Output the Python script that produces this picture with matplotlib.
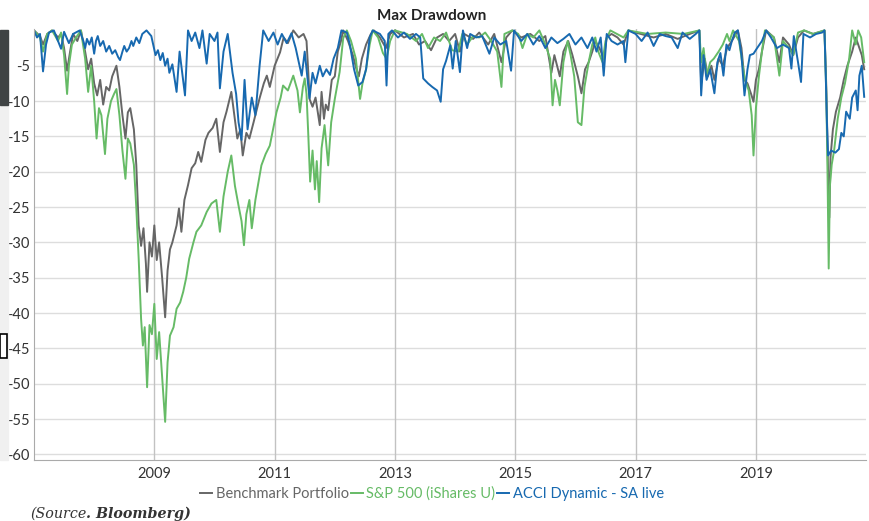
import matplotlib
matplotlib.use("Agg")
import matplotlib.pyplot as plt
import numpy as np

plt.rcParams['font.family'] = ['Lato', 'DejaVu Sans']
plt.rcParams['axes.unicode_minus'] = False

# drawdown readings (decimal year, % drawdown) taken off the chart
bench = [
    (2007.00, 0), (2007.10, -0.8), (2007.15, -2.0), (2007.22, -0.5), (2007.30, 0),
    (2007.40, -1.0), (2007.45, -0.5), (2007.50, -2.5), (2007.55, -5.7), (2007.60, -3.0),
    (2007.65, -0.5), (2007.72, -1.5), (2007.78, 0), (2007.85, -3.0), (2007.90, -5.5),
    (2007.95, -4.0), (2008.00, -7.5), (2008.05, -9.2), (2008.10, -7.0), (2008.15, -10.5),
    (2008.20, -8.0), (2008.25, -8.5), (2008.30, -6.5), (2008.37, -5.0), (2008.42, -8.0),
    (2008.47, -12.0), (2008.52, -15.3), (2008.56, -11.6), (2008.60, -11.0), (2008.66, -14.0),
    (2008.70, -19.0), (2008.74, -27.6), (2008.78, -30.5), (2008.82, -28.0), (2008.86, -33.0),
    (2008.88, -37.0), (2008.92, -30.0), (2008.96, -32.0), (2009.00, -27.6), (2009.04, -32.5),
    (2009.08, -30.0), (2009.13, -35.0), (2009.18, -40.6), (2009.22, -34.0), (2009.26, -31.0),
    (2009.30, -30.0), (2009.37, -27.6), (2009.41, -25.2), (2009.45, -28.5), (2009.50, -24.0),
    (2009.56, -21.9), (2009.62, -19.5), (2009.68, -18.8), (2009.73, -17.2), (2009.78, -18.6),
    (2009.85, -15.5), (2009.90, -14.5), (2009.97, -13.8), (2010.03, -12.5), (2010.09, -17.2),
    (2010.15, -13.0), (2010.20, -11.5), (2010.28, -8.7), (2010.33, -12.0), (2010.38, -15.3),
    (2010.43, -14.0), (2010.47, -17.7), (2010.53, -14.5), (2010.58, -15.3), (2010.65, -13.0),
    (2010.75, -9.6), (2010.82, -7.5), (2010.87, -6.4), (2010.92, -8.0), (2011.00, -5.0),
    (2011.09, -3.1), (2011.15, -1.0), (2011.22, -1.8), (2011.31, 0), (2011.40, -1.0),
    (2011.48, -0.5), (2011.53, -1.5), (2011.56, -6.0), (2011.58, -9.7), (2011.63, -10.8),
    (2011.68, -9.5), (2011.75, -13.4), (2011.78, -8.7), (2011.82, -12.5), (2011.85, -10.5),
    (2011.89, -11.3), (2011.95, -7.0), (2012.00, -6.5), (2012.05, -3.0), (2012.10, -1.6),
    (2012.14, 0), (2012.22, -1.5), (2012.30, -3.5), (2012.36, -5.5), (2012.40, -6.5),
    (2012.45, -4.0), (2012.52, -2.0), (2012.60, -0.5), (2012.65, 0), (2012.75, -1.0),
    (2012.85, -2.5), (2012.92, -0.5), (2013.00, 0), (2013.15, -1.0), (2013.30, -0.5),
    (2013.40, -2.0), (2013.50, -1.5), (2013.60, -2.8), (2013.70, -1.0), (2013.80, -0.5),
    (2013.90, -1.5), (2014.00, -0.5), (2014.08, -3.0), (2014.15, -0.5), (2014.30, -1.2),
    (2014.40, -0.3), (2014.55, -2.0), (2014.65, -0.5), (2014.77, -4.5), (2014.85, -1.0),
    (2014.95, 0), (2015.10, -1.0), (2015.25, -0.5), (2015.40, -1.5), (2015.50, -0.8),
    (2015.60, -6.0), (2015.65, -3.5), (2015.74, -6.5), (2015.80, -3.0), (2015.88, -1.5),
    (2015.95, -3.5), (2016.04, -6.5), (2016.10, -8.9), (2016.16, -5.5), (2016.22, -4.5),
    (2016.28, -3.0), (2016.33, -1.5), (2016.40, -2.5), (2016.47, -4.0), (2016.52, -1.0),
    (2016.60, -0.5), (2016.70, -1.0), (2016.80, -2.0), (2016.88, 0), (2017.00, -0.3),
    (2017.30, -1.0), (2017.50, -0.5), (2017.70, -1.2), (2017.90, -0.5), (2018.06, 0),
    (2018.09, -7.5), (2018.15, -4.0), (2018.20, -6.5), (2018.26, -5.0), (2018.31, -7.0),
    (2018.38, -4.0), (2018.45, -5.0), (2018.52, -2.5), (2018.60, -1.5), (2018.70, 0),
    (2018.76, -2.5), (2018.81, -7.0), (2018.86, -7.5), (2018.92, -9.0), (2018.96, -10.1),
    (2019.00, -7.0), (2019.05, -5.5), (2019.10, -3.0), (2019.17, 0), (2019.30, -1.0),
    (2019.39, -4.5), (2019.45, -1.0), (2019.55, -2.0), (2019.62, -3.5), (2019.70, -1.0),
    (2019.80, 0), (2019.95, -0.5), (2020.14, 0), (2020.17, -8.0), (2020.20, -20.0),
    (2020.22, -26.5), (2020.24, -18.0), (2020.28, -14.0), (2020.33, -11.5), (2020.40, -9.5),
    (2020.46, -7.0), (2020.52, -5.0), (2020.60, -3.0), (2020.66, -1.0), (2020.72, -2.5),
    (2020.76, -3.5), (2020.80, -5.5),
]

sp500 = [
    (2007.00, 0), (2007.10, -1.0), (2007.15, -3.0), (2007.22, -0.5), (2007.30, 0),
    (2007.40, -1.5), (2007.45, -0.3), (2007.50, -3.5), (2007.55, -9.0), (2007.58, -5.0),
    (2007.63, -2.0), (2007.70, -1.0), (2007.78, 0), (2007.85, -4.0), (2007.90, -8.7),
    (2007.95, -5.0), (2008.00, -10.0), (2008.04, -15.3), (2008.08, -11.0), (2008.12, -12.0),
    (2008.18, -17.5), (2008.22, -12.5), (2008.28, -10.0), (2008.33, -9.0), (2008.37, -8.3),
    (2008.42, -12.0), (2008.47, -17.0), (2008.52, -21.0), (2008.56, -15.3), (2008.60, -16.0),
    (2008.66, -19.0), (2008.70, -25.0), (2008.74, -32.3), (2008.78, -40.8), (2008.81, -44.6),
    (2008.84, -42.0), (2008.88, -50.5), (2008.92, -41.7), (2008.96, -43.0), (2009.00, -38.7),
    (2009.04, -46.5), (2009.08, -42.7), (2009.13, -49.0), (2009.18, -55.4), (2009.22, -47.0),
    (2009.26, -43.2), (2009.32, -42.0), (2009.37, -39.4), (2009.43, -38.5), (2009.48, -37.0),
    (2009.53, -35.0), (2009.58, -32.3), (2009.65, -30.0), (2009.70, -28.5), (2009.78, -27.6),
    (2009.87, -25.7), (2009.95, -24.5), (2010.03, -24.0), (2010.09, -28.5), (2010.15, -23.5),
    (2010.22, -20.0), (2010.28, -17.7), (2010.34, -22.0), (2010.40, -24.8), (2010.45, -27.0),
    (2010.49, -30.4), (2010.53, -26.0), (2010.58, -24.0), (2010.62, -28.0), (2010.68, -24.0),
    (2010.78, -19.1), (2010.85, -17.5), (2010.92, -16.3), (2011.03, -11.6), (2011.10, -9.5),
    (2011.14, -7.8), (2011.22, -8.5), (2011.31, -6.4), (2011.38, -8.5), (2011.42, -11.6),
    (2011.47, -8.0), (2011.50, -6.8), (2011.53, -9.0), (2011.56, -14.9), (2011.59, -21.4),
    (2011.63, -17.0), (2011.67, -22.5), (2011.70, -18.5), (2011.74, -24.3), (2011.78, -16.7),
    (2011.83, -13.4), (2011.89, -19.1), (2011.94, -13.0), (2012.00, -9.7), (2012.08, -5.9),
    (2012.14, -1.1), (2012.20, 0), (2012.27, -1.5), (2012.35, -4.0), (2012.42, -9.7),
    (2012.46, -7.5), (2012.52, -5.5), (2012.58, -2.0), (2012.63, 0), (2012.72, -1.0),
    (2012.80, -3.2), (2012.86, -4.0), (2012.92, -1.5), (2013.00, 0), (2013.20, -0.5),
    (2013.35, -1.5), (2013.45, -0.5), (2013.55, -2.5), (2013.65, -1.0), (2013.75, -1.5),
    (2013.85, -0.3), (2013.95, -2.8), (2014.05, -3.0), (2014.12, -0.5), (2014.20, -2.0),
    (2014.30, -0.8), (2014.40, -1.0), (2014.50, -0.3), (2014.60, -1.5), (2014.70, -3.0),
    (2014.77, -8.0), (2014.82, -0.5), (2014.95, 0), (2015.05, -0.5), (2015.12, -2.5),
    (2015.20, -0.5), (2015.30, -1.0), (2015.40, 0), (2015.50, -2.0), (2015.58, -4.0),
    (2015.62, -10.6), (2015.66, -7.0), (2015.70, -8.5), (2015.74, -10.6), (2015.80, -4.5),
    (2015.87, -1.5), (2015.92, -3.5), (2015.98, -6.5), (2016.04, -13.0), (2016.10, -13.4),
    (2016.15, -8.0), (2016.22, -4.5), (2016.28, -2.0), (2016.33, -1.0), (2016.38, -3.0),
    (2016.45, -4.5), (2016.50, -1.5), (2016.58, 0), (2016.80, -1.0), (2016.88, 0),
    (2017.20, -0.5), (2017.50, -0.3), (2017.80, -0.5), (2018.06, 0), (2018.09, -4.5),
    (2018.13, -2.5), (2018.18, -6.5), (2018.24, -4.5), (2018.30, -4.0), (2018.38, -3.0),
    (2018.45, -2.0), (2018.52, -0.5), (2018.56, -1.5), (2018.62, 0), (2018.72, -1.5),
    (2018.78, -5.0), (2018.82, -7.0), (2018.88, -8.5), (2018.93, -12.0), (2018.96, -17.7),
    (2019.00, -11.0), (2019.05, -6.5), (2019.10, -3.0), (2019.15, 0), (2019.30, -1.0),
    (2019.39, -6.4), (2019.45, -1.5), (2019.55, -2.5), (2019.62, -3.5), (2019.70, -0.3),
    (2019.80, 0), (2019.95, -0.5), (2020.14, 0), (2020.17, -9.0), (2020.19, -20.0),
    (2020.21, -33.7), (2020.23, -22.0), (2020.26, -19.0), (2020.30, -17.0), (2020.36, -12.5),
    (2020.42, -9.5), (2020.48, -7.5), (2020.55, -4.0), (2020.60, 0), (2020.66, -2.0),
    (2020.70, 0), (2020.75, -1.0), (2020.80, -4.5),
]

acci = [
    (2007.00, 0), (2007.05, -1.0), (2007.10, -0.5), (2007.15, -5.8), (2007.20, -2.0),
    (2007.25, -0.3), (2007.33, 0), (2007.40, -1.5), (2007.45, -2.6), (2007.50, -0.2),
    (2007.58, -1.8), (2007.65, -0.5), (2007.76, 0), (2007.82, -1.5), (2007.85, -2.5),
    (2007.88, -1.2), (2007.92, -2.0), (2007.96, -1.0), (2008.00, -3.3), (2008.03, -1.5),
    (2008.06, -0.8), (2008.10, -2.2), (2008.15, -1.5), (2008.20, -3.0), (2008.25, -2.2),
    (2008.30, -3.3), (2008.35, -2.8), (2008.40, -3.8), (2008.43, -4.2), (2008.47, -3.0),
    (2008.50, -2.2), (2008.54, -3.0), (2008.58, -2.5), (2008.62, -1.5), (2008.65, -2.2),
    (2008.70, -1.0), (2008.75, -1.8), (2008.80, -0.5), (2008.87, 0), (2008.95, -0.8),
    (2009.02, -3.5), (2009.06, -2.8), (2009.10, -4.2), (2009.14, -3.2), (2009.18, -5.0),
    (2009.22, -4.0), (2009.25, -6.0), (2009.30, -4.8), (2009.33, -6.5), (2009.37, -8.7),
    (2009.42, -3.0), (2009.47, -6.5), (2009.51, -9.2), (2009.56, 0), (2009.62, -1.5),
    (2009.68, -0.3), (2009.75, -2.5), (2009.80, 0), (2009.87, -4.7), (2009.92, -0.5),
    (2010.00, -1.5), (2010.05, -0.3), (2010.09, -8.2), (2010.15, -3.0), (2010.22, -0.5),
    (2010.30, -6.0), (2010.36, -9.0), (2010.40, -13.0), (2010.45, -15.5), (2010.50, -7.0),
    (2010.55, -14.0), (2010.62, -9.5), (2010.68, -12.0), (2010.75, -5.0), (2010.81, 0),
    (2010.90, -1.5), (2010.98, -0.3), (2011.05, -2.0), (2011.12, -0.5), (2011.20, -1.8),
    (2011.28, -0.4), (2011.35, -2.5), (2011.45, -6.4), (2011.50, -3.0), (2011.58, -9.6),
    (2011.63, -6.0), (2011.68, -7.5), (2011.75, -5.0), (2011.80, -6.5), (2011.86, -5.5),
    (2011.92, -6.3), (2011.98, -4.0), (2012.05, -2.5), (2012.11, 0), (2012.20, -0.3),
    (2012.25, -2.0), (2012.32, -5.5), (2012.39, -7.8), (2012.46, -7.3), (2012.52, -5.5),
    (2012.58, -1.0), (2012.63, 0), (2012.75, -0.5), (2012.83, -1.5), (2012.86, -7.8),
    (2012.89, -0.5), (2012.95, 0), (2013.05, -1.0), (2013.15, -0.3), (2013.25, -1.2),
    (2013.35, -0.5), (2013.42, -1.0), (2013.47, -6.8), (2013.55, -7.5), (2013.62, -8.0),
    (2013.70, -8.5), (2013.76, -10.1), (2013.80, -5.5), (2013.85, -4.3), (2013.92, -2.1),
    (2013.96, -5.4), (2014.01, -1.5), (2014.08, -5.9), (2014.13, 0), (2014.20, -2.5),
    (2014.25, -0.5), (2014.35, -1.0), (2014.45, -0.8), (2014.57, -3.3), (2014.65, -1.0),
    (2014.75, -2.0), (2014.85, -1.5), (2014.93, -5.7), (2014.98, 0), (2015.10, -1.5),
    (2015.20, -0.5), (2015.30, -2.0), (2015.40, -0.8), (2015.50, -2.5), (2015.60, -1.0),
    (2015.70, -1.8), (2015.80, -1.2), (2015.90, -0.5), (2016.00, -2.0), (2016.10, -1.0),
    (2016.20, -2.5), (2016.28, -1.0), (2016.35, -3.0), (2016.42, -1.0), (2016.47, -6.4),
    (2016.52, -0.5), (2016.60, -1.5), (2016.70, -2.0), (2016.80, -1.5), (2016.83, -4.5),
    (2016.88, 0), (2017.00, -0.5), (2017.10, -1.5), (2017.20, -0.3), (2017.30, -2.2),
    (2017.40, -0.5), (2017.50, -0.8), (2017.60, -1.0), (2017.70, -2.5), (2017.78, -0.3),
    (2017.90, -1.2), (2018.00, -0.5), (2018.06, 0), (2018.09, -9.2), (2018.13, -3.5),
    (2018.18, -7.0), (2018.24, -5.5), (2018.31, -8.9), (2018.36, -4.5), (2018.41, -3.2),
    (2018.46, -6.4), (2018.51, -2.0), (2018.56, -2.8), (2018.60, -1.5), (2018.65, -0.3),
    (2018.70, 0), (2018.76, -3.5), (2018.81, -9.2), (2018.86, -5.5), (2018.90, -3.5),
    (2018.96, -3.3), (2019.02, -2.5), (2019.10, -1.5), (2019.17, 0), (2019.25, -1.0),
    (2019.35, -2.5), (2019.45, -2.0), (2019.55, -2.5), (2019.59, -5.4), (2019.63, -0.8),
    (2019.70, -4.5), (2019.75, -7.3), (2019.79, -0.5), (2019.90, -1.0), (2020.00, -0.5),
    (2020.10, -0.3), (2020.14, 0), (2020.16, -6.0), (2020.18, -13.0), (2020.20, -17.7),
    (2020.25, -17.0), (2020.32, -17.3), (2020.38, -16.8), (2020.42, -14.5), (2020.46, -15.0),
    (2020.50, -11.5), (2020.56, -12.5), (2020.60, -9.5), (2020.66, -8.5), (2020.69, -11.3),
    (2020.72, -6.4), (2020.76, -5.0), (2020.80, -9.4),
]

series_names = ["Benchmark Portfolio", "S&P 500 (iShares U)", "ACCI Dynamic - SA live"]
series_colors = ["#666666", "#66bb66", "#1769b0"]
year_ticks = [2009, 2011, 2013, 2015, 2017, 2019]
dd_ticks = [-5, -10, -15, -20, -25, -30, -35, -40, -45, -50, -55, -60]

fig = plt.figure(figsize=(8.69, 5.21), dpi=100)
ax = fig.add_axes([34 / 869, 61 / 521, 832 / 869, 431 / 521])

for data, name, col in zip([bench, sp500, acci], series_names, series_colors):
    arr = np.array(data)
    ax.plot(arr[:, 0], arr[:, 1], color=col, lw=1.4, label=name)

ax.set_xlim(2007.0, 2020.83)
ax.set_ylim(-60.8, 0.2)
ax.set_xticks(year_ticks)
ax.set_xticklabels([str(y) for y in year_ticks])
ax.set_yticks(dd_ticks)
ax.set_yticklabels([str(v) for v in dd_ticks])
ax.tick_params(length=0, labelsize=10.5, colors="#333333", pad=5)
ax.tick_params(axis="y", pad=3)

# light horizontal grid, darker year lines
for v in dd_ticks:
    ax.axhline(v, color="#dddddd", lw=1, zorder=0)
for y in year_ticks:
    ax.axvline(y, color="#c2c2c2", lw=1, zorder=0)

for s in ["top", "right"]:
    ax.spines[s].set_visible(False)
ax.spines["left"].set_color("#aaaaaa")
ax.spines["bottom"].set_color("#aaaaaa")

fig.text(432 / 869, 1 - 16 / 521, "Max Drawdown", ha="center", va="center",
         fontsize=11, weight="bold", color="#222222")

fig.legend(loc="center", bbox_to_anchor=(432 / 869, 1 - 494 / 521), ncol=3,
           frameon=False, fontsize=10.5, handlelength=0.8, handletextpad=0.25,
           columnspacing=0.15, labelcolor="linecolor")

# source note
t1 = fig.text(30 / 869, 1 - 514 / 521, "(Source", family="DejaVu Serif", style="italic",
              fontsize=10.3, color="#333333", va="center")
fig.canvas.draw()
bb = t1.get_window_extent()
fig.text(bb.x1 / 869, 1 - 514 / 521, ". Bloomberg)", family="DejaVu Serif", style="italic",
         weight="bold", fontsize=10.3, color="#333333", va="center")

# screenshot edge on the left
fig.patches.append(plt.Rectangle((0, 1 - 460 / 521), 8 / 869, 355 / 521,
                                 transform=fig.transFigure, color="#f0f0f0", zorder=0))
fig.patches.append(plt.Rectangle((0, 1 - 105 / 521), 8 / 869, 75 / 521,
                                 transform=fig.transFigure, color="#3f4344", zorder=0))
fig.patches.append(plt.Rectangle((0, 1 - 358 / 521), 7 / 869, 24 / 521,
                                 transform=fig.transFigure, facecolor="white",
                                 edgecolor="black", lw=1.2, zorder=1))

fig.savefig("out.png", dpi=100)
